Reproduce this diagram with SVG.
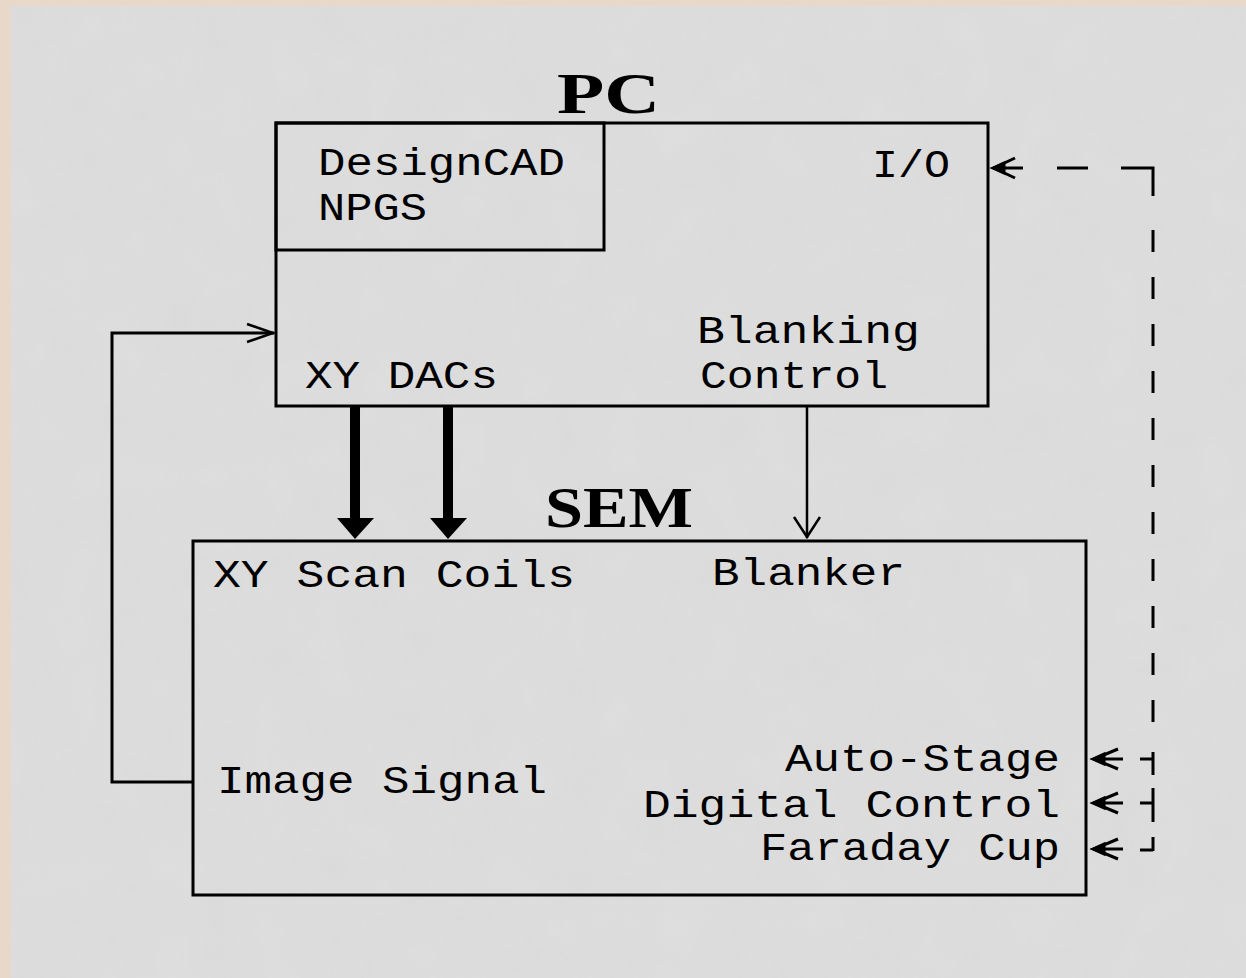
<svg xmlns="http://www.w3.org/2000/svg" width="1246" height="978" viewBox="0 0 1246 978">
<style>
.box{fill:none;stroke:#000;stroke-width:3}
.t{font-family:"Liberation Mono","Courier New",monospace;font-size:38px;fill:#000}
.title{font-family:"Liberation Serif","Times New Roman",serif;font-weight:bold;font-size:56px;fill:#000}
.ln{fill:none;stroke:#000;stroke-width:3}
.thin{fill:none;stroke:#000;stroke-width:2.5}
</style>
<defs>
<filter id="tex" x="0" y="0" width="100%" height="100%">
<feTurbulence type="fractalNoise" baseFrequency="0.02" numOctaves="3" seed="4"/>
<feColorMatrix type="matrix" values="0 0 0 0 0.86  0 0 0 0 0.86  0 0 0 0 0.86  0 0 0 0.35 0"/>
</filter>
</defs>
<rect x="0" y="0" width="1246" height="978" fill="#e8d8ca"/>
<rect x="11" y="6" width="1235" height="972" fill="#dadada"/>
<rect x="11" y="6" width="1235" height="972" filter="url(#tex)" opacity="0.6"/>

<g id="pc">
<rect class="box" x="276" y="123" width="712" height="283"/>
<text class="title" x="557" y="113" textLength="103" lengthAdjust="spacingAndGlyphs">PC</text>
<text class="t" x="872" y="177" textLength="78" lengthAdjust="spacingAndGlyphs">I/O</text>
<text class="t" x="697" y="343" textLength="223" lengthAdjust="spacingAndGlyphs">Blanking</text>
<text class="t" x="700" y="388" textLength="188" lengthAdjust="spacingAndGlyphs">Control</text>
<text class="t" x="305" y="388" textLength="193" lengthAdjust="spacingAndGlyphs">XY DACs</text>
</g>
<g id="software">
<rect class="box" x="276" y="123" width="328" height="127"/>
<text class="t" x="318" y="175" textLength="247" lengthAdjust="spacingAndGlyphs">DesignCAD</text>
<text class="t" x="318" y="220" textLength="109" lengthAdjust="spacingAndGlyphs">NPGS</text>
</g>
<g id="sem">
<rect class="box" x="193" y="541" width="893" height="354"/>
<text class="title" x="545" y="527" textLength="148" lengthAdjust="spacingAndGlyphs">SEM</text>
<text class="t" x="213" y="587" textLength="362" lengthAdjust="spacingAndGlyphs">XY Scan Coils</text>
<text class="t" x="712" y="585" textLength="193" lengthAdjust="spacingAndGlyphs">Blanker</text>
<text class="t" x="217" y="793" textLength="330" lengthAdjust="spacingAndGlyphs">Image Signal</text>
<text class="t" x="785" y="771" textLength="275" lengthAdjust="spacingAndGlyphs">Auto-Stage</text>
<text class="t" x="643" y="817" textLength="417" lengthAdjust="spacingAndGlyphs">Digital Control</text>
<text class="t" x="760" y="860" textLength="300" lengthAdjust="spacingAndGlyphs">Faraday Cup</text>
</g>

<g id="connectors">
<!-- thick DAC arrows -->
<line x1="355" y1="406" x2="355" y2="522" stroke="#000" stroke-width="10"/>
<polygon points="337,518 374,518 355,539" fill="#000"/>
<line x1="448" y1="406" x2="448" y2="522" stroke="#000" stroke-width="10"/>
<polygon points="430,518 467,518 448,539" fill="#000"/>
<!-- blanking -->
<line class="thin" x1="807" y1="406" x2="807" y2="538"/>
<polyline class="thin" points="794,517 807,537 820,517"/>
<!-- image signal feedback -->
<polyline class="ln" points="193,782 112,782 112,333 274,333"/>
<polyline class="thin" points="247,324 273,333 247,342"/>
<!-- dashed I/O line -->
<g stroke="#000" stroke-width="3" fill="none">
<line x1="993" y1="168" x2="1023" y2="168"/>
<polyline points="1015,158 994,168 1015,178"/>
<polygon points="993,168 1004,163 1004,173" fill="#000"/>
<line x1="1057" y1="168" x2="1088" y2="168"/>
<polyline points="1121,168 1153,168 1153,196"/>
<line x1="1153" y1="230" x2="1153" y2="735" stroke-dasharray="22 25"/>
<line x1="1153" y1="752" x2="1153" y2="775"/>
<line x1="1153" y1="788" x2="1153" y2="822"/>
<line x1="1153" y1="837" x2="1153" y2="851"/>
<line x1="1140" y1="759" x2="1153" y2="759"/>
<line x1="1140" y1="803" x2="1153" y2="803"/>
<line x1="1140" y1="850" x2="1153" y2="850"/>
<line x1="1093" y1="759" x2="1123" y2="759"/>
<polyline points="1118,749 1094,759 1118,769"/>
<polygon points="1093,759 1104,754 1104,764" fill="#000"/>
<line x1="1093" y1="803" x2="1123" y2="803"/>
<polyline points="1118,793 1094,803 1118,813"/>
<polygon points="1093,803 1104,798 1104,808" fill="#000"/>
<line x1="1093" y1="849" x2="1123" y2="849"/>
<polyline points="1118,839 1094,849 1118,859"/>
<polygon points="1093,849 1104,844 1104,854" fill="#000"/>
</g>
</g>
</svg>
